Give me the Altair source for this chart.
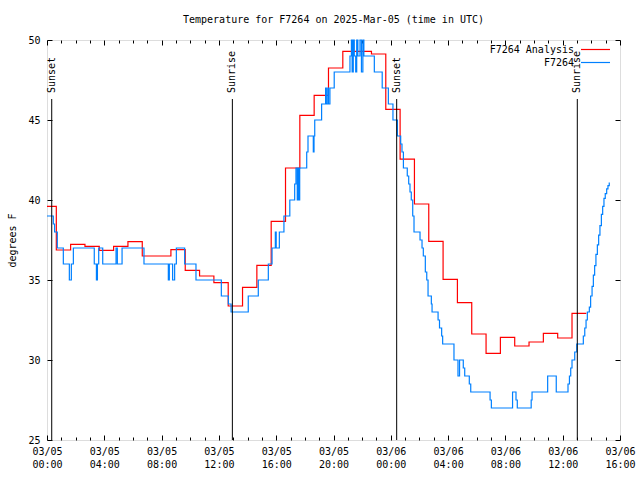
import altair as alt
import pandas as pd

MONO = "DejaVu Sans Mono"

# ---- data (hours since 2025-03-05 00:00 UTC) ----
analysis_hours = [0.0, 0.65, 1.65, 2.65, 3.65, 4.65, 5.65, 6.65, 7.65, 8.65,
                  9.65, 10.65, 11.65, 12.65, 13.65, 14.65, 15.65, 16.65, 17.65, 18.65,
                  19.65, 20.65, 21.65, 22.65, 23.65, 24.65, 25.65, 26.65, 27.65, 28.65,
                  29.65, 30.65, 31.65, 32.65, 33.65, 34.65, 35.65, 36.65, 37.65]
analysis_temps = [39.6, 36.875, 37.23, 37.1, 36.85, 37.1, 37.4, 36.5, 36.5, 36.9,
                  35.6, 35.25, 34.83, 33.375, 34.54, 35.92, 38.67, 42.0, 45.29, 46.54,
                  48.25, 49.29, 49.29, 49.125, 45.67, 42.56, 39.75, 37.42, 35.04, 33.58,
                  31.625, 30.42, 31.42, 30.875, 31.125, 31.67, 31.375, 32.92, 32.92]

obs_hours = [0.0, 0.44, 0.53, 0.72, 1.14, 1.56, 1.70, 1.84, 3.30, 3.45,
             3.52, 3.61, 3.89, 4.82, 4.91, 5.24, 6.77, 8.47, 8.54, 8.77,
             8.91, 9.03, 9.61, 10.40, 12.17, 12.66, 12.85, 14.05, 14.75, 15.45,
             15.71, 15.94, 16.00, 16.22, 16.54, 16.95, 17.29, 17.38, 17.47, 17.52,
             17.58, 17.64, 18.13, 18.22, 18.59, 18.64, 18.69, 19.17, 19.45, 19.50,
             19.60, 19.65, 19.75, 20.05, 21.15, 21.25, 21.30, 21.38, 21.45, 21.55,
             21.62, 21.70, 21.85, 21.95, 22.05, 22.12, 22.85, 23.40, 23.83, 24.15,
             24.46, 24.69, 24.78, 24.88, 25.15, 25.25, 25.34, 25.43, 25.53, 25.62,
             26.04, 26.18, 26.27, 26.41, 26.51, 26.60, 26.83, 26.88, 27.30, 27.40,
             27.55, 27.62, 28.41, 28.69, 28.80, 29.06, 29.16, 29.48, 29.58, 30.93,
             31.02, 32.50, 32.74, 32.83, 33.80, 33.86, 34.95, 35.55, 36.37, 36.47,
             36.56, 36.65, 36.84, 36.98, 37.44, 37.54, 37.63, 37.72, 37.86, 37.95,
             38.05, 38.14, 38.23, 38.32, 38.42, 38.51, 38.60, 38.70, 38.79, 38.88,
             38.97, 39.07, 39.16, 39.25]
obs_temps = [39, 38.5, 38, 37, 36, 35, 36, 37, 36, 35,
             36, 37, 36, 37, 36, 37, 36, 35, 36, 35,
             36, 37, 36, 35, 34, 33.5, 33, 34, 35, 36,
             37, 38, 37, 38, 39, 40, 41, 42, 40, 42,
             40, 42, 43, 44, 43, 44, 45, 46, 47, 46,
             47, 46, 47, 48, 49, 50, 48, 50, 49, 48,
             50, 49, 50, 48, 50, 49, 48, 47, 46, 45,
             44, 43.5, 43, 42, 41.5, 41, 40.5, 40, 39, 38,
             37.5, 37, 36.5, 35.5, 35, 34, 33.5, 33, 32.5, 32,
             31.5, 31, 30, 29, 30, 29.5, 29, 28.5, 28, 27.5,
             27, 28, 27.5, 27, 27.5, 28, 29, 28, 28.5, 29,
             29.5, 30, 30.5, 31, 31.5, 32, 32.5, 33, 33.3, 34,
             34.6, 35.3, 35.9, 36.6, 37.2, 37.8, 38.4, 39.1, 39.6, 40.1,
             40.4, 40.7, 40.9, 41.1]

sun_hours = [0.33, 12.94, 24.41, 37.02]
sun_labels = ["Sunset", "Sunrise", "Sunset", "Sunrise"]

x_label_hours = [0, 4, 8, 12, 16, 20, 24, 28, 32, 36, 40]
x_tick_hours = list(range(0, 41))
y_ticks = [25, 30, 35, 40, 45, 50]

series_names = ["F7264 Analysis", "F7264"]
series_colors = ["#ff0000", "#0080ff"]

red_df = pd.DataFrame({"hours": analysis_hours, "temp": analysis_temps})
blue_df = pd.DataFrame({"hours": obs_hours, "temp": obs_temps})
sun_df = pd.DataFrame({"hours": sun_hours, "label": sun_labels})

W, H = 573, 400
xscale = alt.Scale(domain=[0, 40], nice=False, zero=False)
yscale = alt.Scale(domain=[25, 50], nice=False, zero=False)
tick_size = {"condition": {"test": "datum.value % 4 === 0", "value": 5}, "value": 3}

base_axis = dict(grid=False, domain=False, labelFont=MONO, labelFontSize=10,
                 labelColor="black", tickColor="black")

x_labels_axis = alt.Axis(
    orient="bottom", values=x_label_hours, ticks=False, labelFlush=False,
    labelOverlap=False, labelPadding=6, labelLineHeight=13, title=None,
    labelExpr="['03/0' + (5 + floor(datum.value / 24)), "
              "(datum.value % 24 < 10 ? '0' : '') + (datum.value % 24) + ':00']",
    **base_axis)
x_in_bottom = alt.Axis(orient="top", offset=-H, values=x_tick_hours, labels=False,
                       tickSize=tick_size, title=None, **base_axis)
x_in_top = alt.Axis(orient="bottom", offset=-H, values=x_tick_hours, labels=False,
                    tickSize=tick_size, title=None, **base_axis)

y_labels_axis = alt.Axis(
    orient="left", values=y_ticks, ticks=False, labelPadding=7,
    title="degrees F", titleX=-35, titleY=H / 2, titleAngle=270,
    titleAlign="center", titleBaseline="middle", titleFont=MONO,
    titleFontSize=10, titleFontWeight="normal", titleColor="black", **base_axis)
y_in_left = alt.Axis(orient="right", offset=-W, values=y_ticks, labels=False,
                     tickSize=5, title=None, **base_axis)
y_in_right = alt.Axis(orient="left", offset=-W, values=y_ticks, labels=False,
                      tickSize=5, title=None, **base_axis)

red = alt.Chart(red_df).mark_line(interpolate="step-after", color=series_colors[0],
                                  strokeWidth=1.2).encode(
    x=alt.X("hours:Q", scale=xscale, axis=x_labels_axis),
    y=alt.Y("temp:Q", scale=yscale, axis=y_labels_axis))

blue = alt.Chart(blue_df).mark_line(interpolate="step-after", color=series_colors[1],
                                    strokeWidth=1.2).encode(
    x=alt.X("hours:Q", scale=xscale, axis=x_in_bottom),
    y=alt.Y("temp:Q", scale=yscale, axis=y_in_left))

ghost = alt.Chart(red_df).mark_point(opacity=0, size=1).encode(
    x=alt.X("hours:Q", scale=xscale, axis=x_in_top),
    y=alt.Y("temp:Q", scale=yscale, axis=y_in_right))

rules = alt.Chart(sun_df).mark_rule(color="black", strokeWidth=1).encode(
    x=alt.X("hours:Q", scale=xscale, axis=None),
    y=alt.value(59), y2=alt.value(H))

sun_text = alt.Chart(sun_df).mark_text(
    angle=270, align="left", baseline="middle", font=MONO, fontSize=10,
    color="black").encode(
    x=alt.X("hours:Q", scale=xscale, axis=None),
    y=alt.value(53), text="label:N")

legend_layers = []
for i, (name, col) in enumerate(zip(series_names, series_colors)):
    ldf = pd.DataFrame({"name": [name]})
    legend_layers.append(alt.Chart(ldf).mark_text(
        align="right", baseline="middle", font=MONO, fontSize=10, color="black").encode(
        x=alt.value(527), y=alt.value(10 + 13 * i), text="name:N"))
    legend_layers.append(alt.Chart(ldf).mark_rule(color=col, strokeWidth=1.2).encode(
        x=alt.value(534), x2=alt.value(563), y=alt.value(9.5 + 13 * i)))

chart = alt.layer(red, blue, ghost, rules, sun_text, *legend_layers).resolve_scale(
    x="independent", y="independent").properties(
    width=W, height=H,
    autosize=alt.AutoSizeParams(type="none"),
    padding={"left": 47, "top": 40, "right": 20, "bottom": 40},
    title=alt.TitleParams(
        text="Temperature for F7264 on 2025-Mar-05 (time in UTC)",
        font=MONO, fontSize=10, fontWeight="normal", color="black",
        anchor="middle", frame="group", offset=10),
).configure_view(stroke="black", strokeWidth=1).configure(background="white")

chart.save("out.html", embed_options={"renderer": "svg", "actions": False})
